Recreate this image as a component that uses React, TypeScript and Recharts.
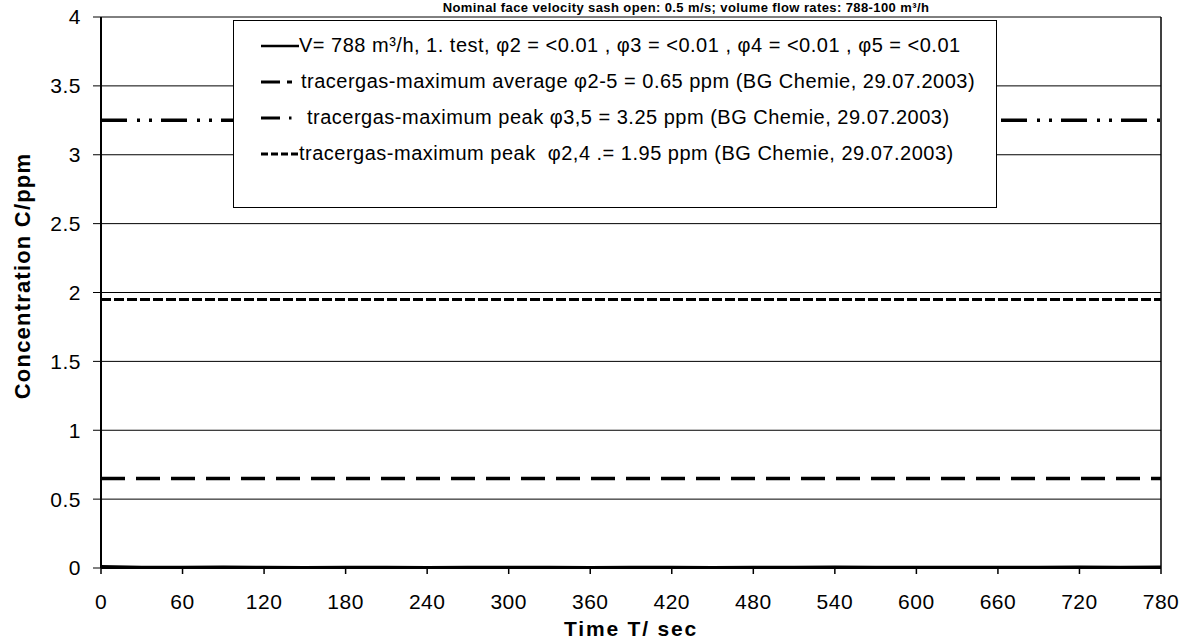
import React from "react";
import {
  LineChart,
  Line,
  XAxis,
  YAxis,
  CartesianGrid,
  ReferenceLine,
  Legend,
} from "recharts";

// measured concentration (V = 788 m³/h, 1. test), sampled over time
const times = [0, 30, 60, 90, 120, 150, 180, 210, 240, 270, 300, 330, 360, 390, 420, 450, 480, 510, 540, 570, 600, 630, 660, 690, 720, 750, 780];
const measured = [0.01, 0.005, 0.005, 0.008, 0.005, 0.004, 0.006, 0.005, 0.004, 0.006, 0.005, 0.005, 0.004, 0.006, 0.005, 0.004, 0.006, 0.005, 0.008, 0.006, 0.005, 0.006, 0.006, 0.005, 0.007, 0.006, 0.008];

// BG Chemie reference levels
const avgLevel = [0.65];
const peak35Level = [3.25];
const peak24Level = [1.95];

const xTicks = [0, 60, 120, 180, 240, 300, 360, 420, 480, 540, 600, 660, 720, 780];
const yTicks = [0, 0.5, 1, 1.5, 2, 2.5, 3, 3.5, 4];

const title = "Nominal face velocity sash open: 0.5 m/s; volume flow rates: 788-100 m³/h";

const legendItems = [
  { label: "V= 788 m³/h, 1. test, φ2 = <0.01 , φ3 = <0.01 , φ4 = <0.01 , φ5 = <0.01", dash: undefined, width: 2.5, gap: 0 },
  { label: "tracergas-maximum average φ2-5 = 0.65 ppm (BG Chemie, 29.07.2003)", dash: "19 7 5 40", width: 3, gap: 2 },
  { label: "tracergas-maximum peak φ3,5 = 3.25 ppm (BG Chemie, 29.07.2003)", dash: "19 9 2.5 40", width: 3, gap: 8 },
  { label: "tracergas-maximum peak  φ2,4 .= 1.95 ppm (BG Chemie, 29.07.2003)", dash: "7 3", width: 3, gap: 0 },
];

const data = times.map((t, i) => ({
  t,
  measured: measured[i],
  avg: avgLevel[0],
  peak35: peak35Level[0],
  peak24: peak24Level[0],
}));

const FONT = "'Liberation Sans', Arial, sans-serif";

function LegendBox() {
  return (
    <div
      style={{
        width: 762,
        height: 186,
        border: "1px solid #000",
        background: "#fff",
        fontFamily: FONT,
        fontSize: 20,
        letterSpacing: 0.5,
        color: "#000",
        boxSizing: "content-box",
      }}
    >
      {legendItems.map((it, i) => (
        <div
          key={i}
          style={{ position: "absolute", left: 28, top: 14 + i * 36, display: "flex", alignItems: "center", whiteSpace: "pre" }}
        >
          <svg width={38} height={12}>
            <line x1={0} y1={6} x2={38} y2={6} stroke="#000" strokeWidth={it.width} strokeDasharray={it.dash} />
          </svg>
          <span style={{ marginLeft: it.gap }}>{it.label}</span>
        </div>
      ))}
    </div>
  );
}

export default function App() {
  return (
    <div style={{ position: "absolute", left: 0, top: 0, width: 1192, height: 643, background: "#fff" }}>
      <LineChart
        width={1192}
        height={643}
        data={data}
        margin={{ top: 17, right: 31, bottom: 0, left: 0 }}
      >
        <text x={686} y={12} textAnchor="middle" fontFamily={FONT} fontWeight="bold" fontSize={13} letterSpacing={0.4} fill="#000">
          {title}
        </text>
        <text
          x={30}
          y={276}
          transform="rotate(-90 30 276)"
          textAnchor="middle"
          fontFamily={FONT}
          fontWeight="bold"
          fontSize={22}
          letterSpacing={1.2}
          fill="#000"
        >
          Concentration C/ppm
        </text>
        <CartesianGrid horizontal vertical={false} stroke="#000" strokeWidth={1} />
        <XAxis
          dataKey="t"
          type="number"
          domain={[0, 780]}
          ticks={xTicks}
          interval={0}
          height={75}
          tickSize={6}
          tickMargin={20}
          axisLine={{ stroke: "#000", strokeWidth: 2 }}
          tickLine={{ stroke: "#000", strokeWidth: 1.5 }}
          tick={{ fill: "#000", fontSize: 21, fontFamily: FONT, letterSpacing: 0.5 }}
          label={{ value: "Time T/ sec", position: "insideBottom", offset: 7, fill: "#000", fontSize: 21, fontWeight: "bold", fontFamily: FONT, letterSpacing: 1.8 }}
        />
        <YAxis
          type="number"
          domain={[0, 4]}
          ticks={yTicks}
          interval={0}
          width={101}
          tickSize={8}
          tickMargin={12}
          tickFormatter={(v: number) => String(v)}
          axisLine={{ stroke: "#000", strokeWidth: 2 }}
          tickLine={{ stroke: "#000", strokeWidth: 1 }}
          tick={{ fill: "#000", fontSize: 21, fontFamily: FONT, letterSpacing: 0.5 }}
        />
        <ReferenceLine x={780} stroke="#000" strokeWidth={1.5} />
        <Line dataKey="peak35" stroke="#000" strokeWidth={3.5} strokeDasharray="26 10 3 9 3 9" dot={false} isAnimationActive={false} />
        <Line dataKey="peak24" stroke="#000" strokeWidth={3} strokeDasharray="10 3" dot={false} isAnimationActive={false} />
        <Line dataKey="avg" stroke="#000" strokeWidth={3.5} strokeDasharray="24 11" dot={false} isAnimationActive={false} />
        <Line dataKey="measured" stroke="#000" strokeWidth={3} dot={false} isAnimationActive={false} />
        <Legend
          layout="vertical"
          align="center"
          verticalAlign="middle"
          content={() => <LegendBox />}
          wrapperStyle={{ left: 233, top: 20, width: 764, height: 188, position: "absolute" }}
        />
      </LineChart>
    </div>
  );
}
